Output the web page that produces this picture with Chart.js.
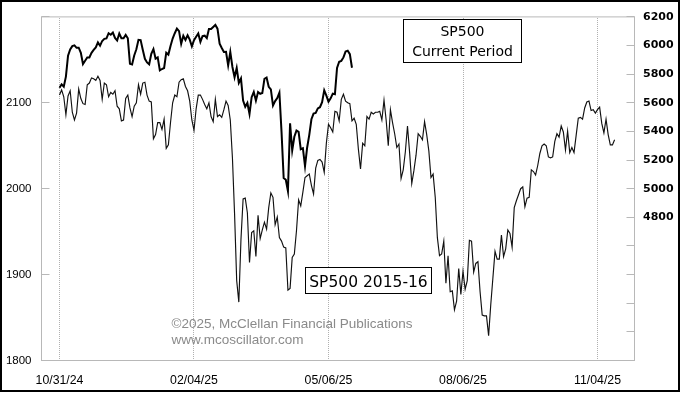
<!DOCTYPE html>
<html>
<head>
<meta charset="utf-8">
<script src="https://cdn.jsdelivr.net/npm/chart.js@4.4.1/dist/chart.umd.min.js"></script>
<style>
html,body{margin:0;padding:0;background:#fff;}
canvas{display:block;}
</style>
</head>
<body>
<canvas id="c" width="680" height="393"></canvas>
<script>
// x = trading-day index from 10/31/24
const dateTickPositions = [0, 63, 126, 189, 252];
const dateTickLabels = ['10/31/24', '02/04/25', '05/06/25', '08/06/25', '11/04/25'];

// SP500 current period (right axis), daily closes from 10/31/24
const currentPeriod = [
  5705, 5729, 5713, 5783, 5929, 5973, 5996, 6001, 5984, 5985, 5949, 5871, 5894, 5917, 5917, 5949, 5969, 5987, 6022, 5999, 6032,
  6047, 6050, 6086, 6075, 6090, 6053, 6035, 6084, 6051, 6051, 6074, 6051, 5872, 5867, 5931, 5974, 6040, 6038, 5971, 5907, 5882,
  5869, 5942, 5975, 5909, 5918, 5827, 5836, 5843, 5950, 5937, 5997, 6049, 6086, 6119, 6101, 6012, 6068, 6039, 6071, 6041,
  5995, 6038, 6061, 6084, 6026, 6066, 6069, 6052, 6115, 6115, 6130, 6144, 6118, 6013, 5983, 5955, 5956, 5862, 5955,
  5850, 5778, 5843, 5739, 5770, 5615, 5572, 5599, 5522, 5639, 5675, 5615, 5675, 5663, 5668, 5768, 5777, 5712, 5693, 5581, 5612,
  5633, 5671, 5397, 5074, 5062, 4983, 5457, 5268, 5363, 5406, 5397, 5276, 5283, 5158, 5288, 5376, 5485, 5525, 5529, 5561, 5569,
  5604, 5687, 5650, 5607, 5631, 5664, 5660, 5844, 5887, 5893, 5917, 5958, 5964, 5940, 5845
];

// SP500 2015-16 (left axis), daily closes aligned to the same trading-day index
const sp500_2015_16 = [
  2109, 2115, 2107, 2086,
  2108, 2114, 2089, 2080, 2088, 2116, 2105, 2099, 2098, 2121, 2123, 2129, 2128, 2126, 2131, 2126, 2104, 2123, 2121, 2107,
  2112, 2110, 2114, 2096, 2093, 2079, 2080, 2105, 2109, 2094, 2084, 2096, 2100, 2121, 2110, 2123, 2124, 2109, 2102, 2101, 2058, 2063,
  2077, 2077, 2069, 2081, 2047, 2051, 2077, 2100, 2109, 2107, 2124, 2127, 2128, 2119, 2114, 2102, 2080, 2068, 2093, 2109, 2109, 2104,
  2098, 2093, 2100, 2084, 2078, 2104, 2084, 2086, 2083, 2092, 2102, 2097, 2080, 2036, 1971, 1893, 1868, 1941, 1988, 1989, 1972,
  1914, 1949, 1951, 1921, 1969, 1942, 1952, 1961, 1953, 1978, 1995, 1990, 1958, 1967, 1943, 1939, 1932, 1931, 1882, 1884, 1920,
  1924, 1951, 1987, 1980, 1996, 2013, 2015, 2017, 2004, 1994, 2024, 2033, 2034, 2031, 2019, 2053, 2075, 2071, 2066, 2090, 2089, 2079,
  2104, 2110, 2102, 2100, 2099, 2079, 2082, 2075, 2046, 2023, 2053, 2050, 2084, 2081, 2089, 2087, 2089, 2089, 2090, 2080,
  2103, 2080, 2050, 2092, 2077, 2064, 2048, 2052, 2012, 2022, 2043, 2073, 2042, 2006, 2021, 2039, 2064, 2061, 2057, 2078, 2063, 2044,
  2013, 2017, 1990, 1943, 1922, 1924, 1939, 1890, 1922, 1880, 1881, 1859, 1869, 1907, 1877, 1904, 1883, 1893, 1940,
  1939, 1903, 1913, 1915, 1880, 1853, 1852, 1852, 1829, 1865, 1896, 1927, 1918, 1918, 1946, 1921, 1930, 1952, 1948, 1932,
  1978, 1986, 1993, 2000, 2002, 1979, 1989, 1990, 2022, 2020, 2016, 2027, 2041, 2050, 2052, 2050, 2037, 2036, 2037, 2055, 2064, 2060,
  2073, 2066, 2045, 2067, 2042, 2048, 2042, 2062, 2082, 2083, 2081, 2094, 2101, 2102, 2091, 2092, 2088, 2092, 2095, 2076, 2065,
  2081, 2063, 2051, 2051, 2057
];

const leftAxisMin = 1800, leftAxisMax = 2200, leftAxisStep = 100;
const rightAxisMin = 3800, rightAxisMax = 6200, rightAxisStep = 200, rightLabelFrom = 4800;

const boxCurrent = ['SP500', 'Current Period'];
const boxOld = 'SP500 2015-16';
const credits = ['\u00A92025, McClellan Financial Publications', 'www.mcoscillator.com'];

const decor = {
  id: 'decor',
  beforeDraw(chart) {
    const ctx = chart.ctx;
    ctx.save();
    ctx.fillStyle = '#fff';
    ctx.fillRect(0, 0, chart.width, chart.height);
    ctx.restore();
  },
  beforeDatasetsDraw(chart) {
    // dotted vertical grid lines at the date ticks
    const ctx = chart.ctx;
    const a = chart.chartArea;
    const X = chart.scales.x;
    ctx.save();
    ctx.fillStyle = '#b0b0b0';
    X.ticks.forEach(t => {
      const px = Math.round(X.getPixelForValue(t.value) - 0.5);
      for (let y = Math.ceil(a.top) + 1; y < a.bottom - 1; y += 2) {
        ctx.fillRect(px, y, 1, 1);
      }
    });
    ctx.restore();
  },
  afterDatasetsDraw(chart) {
    const ctx = chart.ctx;
    ctx.save();
    // credits
    ctx.fillStyle = '#8a8a8a';
    ctx.font = '13.5px "Liberation Sans", Arial, sans-serif';
    ctx.textAlign = 'left';
    ctx.textBaseline = 'alphabetic';
    ctx.fillText(credits[0], 171.5, 327.5);
    ctx.fillText(credits[1], 171.5, 343.5);
    // box current
    ctx.fillStyle = '#fff';
    ctx.fillRect(403.5, 19.5, 118, 43);
    ctx.strokeStyle = '#000';
    ctx.lineWidth = 1;
    ctx.strokeRect(403.5, 19.5, 118, 43);
    ctx.fillStyle = '#000';
    ctx.textAlign = 'center';
    ctx.font = '14px "DejaVu Sans", sans-serif';
    ctx.fillText(boxCurrent[0], 462.5, 35.5);
    ctx.fillText(boxCurrent[1], 462.5, 56);
    // box 2015-16
    ctx.fillStyle = '#fff';
    ctx.fillRect(305.5, 267.5, 126, 26);
    ctx.strokeRect(305.5, 267.5, 126, 26);
    ctx.fillStyle = '#000';
    ctx.font = '15.5px "DejaVu Sans", sans-serif';
    ctx.fillText(boxOld, 368.5, 286.5);
    ctx.restore();
  },
  afterDraw(chart) {
    const ctx = chart.ctx;
    const a = chart.chartArea;
    ctx.save();
    ctx.strokeStyle = '#b8b8b8';
    ctx.lineWidth = 1;
    ctx.strokeRect(a.left, a.top, a.right - a.left, a.bottom - a.top);
    const L = chart.scales.yL, R = chart.scales.yR;
    ctx.beginPath();
    L.ticks.forEach((t, i) => {
      const y = Math.round(L.getPixelForTick(i) - 0.5) + 0.5;
      ctx.moveTo(a.left, y); ctx.lineTo(a.left + 8, y);
    });
    R.ticks.forEach((t, i) => {
      const y = Math.round(R.getPixelForTick(i) - 0.5) + 0.5;
      ctx.moveTo(a.right, y); ctx.lineTo(a.right - 8, y);
    });
    ctx.stroke();
    // outer frame
    ctx.fillStyle = '#000';
    ctx.fillRect(0, 0, 680, 2);
    ctx.fillRect(0, 0, 2, 392);
    ctx.fillRect(678, 0, 2, 392);
    ctx.fillRect(0, 390, 680, 2);
    ctx.restore();
  }
};

new Chart(document.getElementById('c'), {
  type: 'line',
  data: {
    datasets: [
      {
        label: boxOld,
        data: sp500_2015_16.map((v, i) => ({ x: i, y: v })),
        yAxisID: 'yL',
        borderColor: '#111',
        borderWidth: 1.15,
        pointRadius: 0,
        tension: 0,
        fill: false
      },
      {
        label: boxCurrent.join(' '),
        data: currentPeriod.map((v, i) => ({ x: i, y: v })),
        yAxisID: 'yR',
        borderColor: '#000',
        borderWidth: 2,
        pointRadius: 0,
        tension: 0,
        fill: false
      }
    ]
  },
  options: {
    responsive: false,
    animation: false,
    events: [],
    layout: { padding: { top: 11.5, left: 0, right: 0, bottom: 0 } },
    plugins: { legend: { display: false }, tooltip: { enabled: false } },
    scales: {
      x: {
        type: 'linear',
        position: 'bottom',
        min: -8.43,
        max: 269.33,
        afterBuildTicks: s => { s.ticks = dateTickPositions.map(v => ({ value: v })); },
        afterFit: s => { s.height = 32.5; },
        grid: { display: false, drawOnChartArea: false, drawTicks: false },
        border: { display: false },
        ticks: {
          autoSkip: false, maxRotation: 0, minRotation: 0, padding: 13,
          color: '#000',
          font: { family: '"Liberation Sans", Arial, sans-serif', size: 12.3 },
          callback: (v, i) => dateTickLabels[i]
        }
      },
      yL: {
        type: 'linear',
        position: 'left',
        min: leftAxisMin, max: leftAxisMax,
        afterFit: s => { s.width = 41.5; },
        grid: { display: false, drawTicks: false, drawOnChartArea: false },
        border: { display: false },
        ticks: {
          stepSize: leftAxisStep, padding: 10, color: '#000',
          font: { family: '"Liberation Sans", Arial, sans-serif', size: 11.5 },
          callback: v => (v < leftAxisMax ? String(v) : '')
        }
      },
      yR: {
        type: 'linear',
        position: 'right',
        min: rightAxisMin, max: rightAxisMax,
        afterFit: s => { s.width = 45.5; },
        grid: { display: false, drawTicks: false, drawOnChartArea: false },
        border: { display: false },
        ticks: {
          stepSize: rightAxisStep, padding: 8.5, color: '#000',
          font: { family: '"DejaVu Sans", sans-serif', size: 11, weight: 'bold' },
          callback: v => (v >= rightLabelFrom ? String(v) : '')
        }
      }
    }
  },
  plugins: [decor]
});
</script>
</body>
</html>
